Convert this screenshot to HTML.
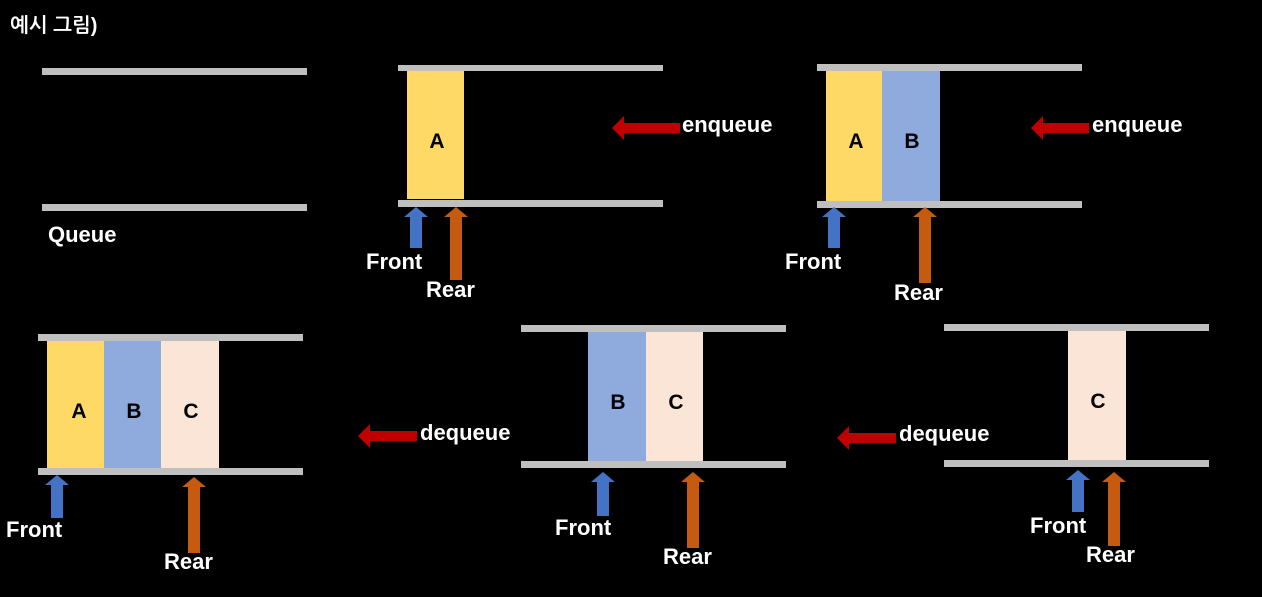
<!DOCTYPE html>
<html><head><meta charset="utf-8"><style>
html,body{margin:0;padding:0;background:#000;width:1262px;height:597px;overflow:hidden}
svg text{font-family:"Liberation Sans","NanumGothic","Noto Sans CJK KR",sans-serif;font-weight:bold}
</style></head><body>
<svg width="1262" height="597" viewBox="0 0 1262 597" xmlns="http://www.w3.org/2000/svg">
<rect width="1262" height="597" fill="#000"/>
<text x="10" y="32" fill="#fff" font-size="20">예시 그림)</text>
<g fill="#bfbfbf">
<rect x="42" y="68" width="265" height="7"/><rect x="42" y="204" width="265" height="7"/>
<rect x="398" y="65" width="265" height="6"/><rect x="398" y="200" width="265" height="7"/>
<rect x="817" y="64" width="265" height="7"/><rect x="817" y="201" width="265" height="7"/>
<rect x="38" y="334" width="265" height="7"/><rect x="38" y="468" width="265" height="7"/>
<rect x="521" y="325" width="265" height="7"/><rect x="521" y="461" width="265" height="7"/>
<rect x="944" y="324" width="265" height="7"/><rect x="944" y="460" width="265" height="7"/>
</g>
<g font-size="21" text-anchor="middle" fill="#000">
<rect x="407" y="71" width="57" height="128" fill="#ffd966"/><text x="437" y="148">A</text>
<rect x="826" y="71" width="56" height="130" fill="#ffd966"/><text x="856" y="148">A</text>
<rect x="882" y="71" width="58" height="130" fill="#8faadc"/><text x="912" y="148">B</text>
<rect x="47" y="341" width="57" height="127" fill="#ffd966"/><text x="79" y="418">A</text>
<rect x="104" y="341" width="57" height="127" fill="#8faadc"/><text x="134" y="418">B</text>
<rect x="161" y="341" width="58" height="127" fill="#fbe5d6"/><text x="191" y="418">C</text>
<rect x="588" y="332" width="58" height="129" fill="#8faadc"/><text x="618" y="409">B</text>
<rect x="646" y="332" width="57" height="129" fill="#fbe5d6"/><text x="676" y="409">C</text>
<rect x="1068" y="331" width="58" height="129" fill="#fbe5d6"/><text x="1098" y="408">C</text>
</g>
<g fill="#4472c4">
<polygon points="416,207 428,217 422,217 422,248 410,248 410,217 404,217"/>
<polygon points="834,207 846,217 840,217 840,248 828,248 828,217 822,217"/>
<polygon points="57,475 69,485 63,485 63,518 51,518 51,485 45,485"/>
<polygon points="603,472 615,482 609,482 609,516 597,516 597,482 591,482"/>
<polygon points="1078,470 1090,480 1084,480 1084,512 1072,512 1072,480 1066,480"/>
</g>
<g fill="#c55a11">
<polygon points="456,207 468,217 462,217 462,280 450,280 450,217 444,217"/>
<polygon points="925,207 937,217 931,217 931,283 919,283 919,217 913,217"/>
<polygon points="194,477 206,487 200,487 200,553 188,553 188,487 182,487"/>
<polygon points="693,472 705,482 699,482 699,548 687,548 687,482 681,482"/>
<polygon points="1114,472 1126,482 1120,482 1120,546 1108,546 1108,482 1102,482"/>
</g>
<g fill="#c00000">
<polygon points="612,128 624,116 624,123 680,123 680,133 624,133 624,140"/>
<polygon points="1031,128 1043,116 1043,123 1089,123 1089,133 1043,133 1043,140"/>
<polygon points="358,436 370,424 370,431 417,431 417,441 370,441 370,448"/>
<polygon points="837,438 849,426 849,433 896,433 896,443 849,443 849,450"/>
</g>
<g fill="#fff" font-size="22">
<text x="48" y="242">Queue</text>
<text x="682" y="132">enqueue</text>
<text x="1092" y="132">enqueue</text>
<text x="420" y="440">dequeue</text>
<text x="899" y="441">dequeue</text>
<text x="366" y="269">Front</text><text x="426" y="297">Rear</text>
<text x="785" y="269">Front</text><text x="894" y="300">Rear</text>
<text x="6" y="537">Front</text><text x="164" y="569">Rear</text>
<text x="555" y="535">Front</text><text x="663" y="564">Rear</text>
<text x="1030" y="533">Front</text><text x="1086" y="562">Rear</text>
</g>
</svg>
</body></html>
